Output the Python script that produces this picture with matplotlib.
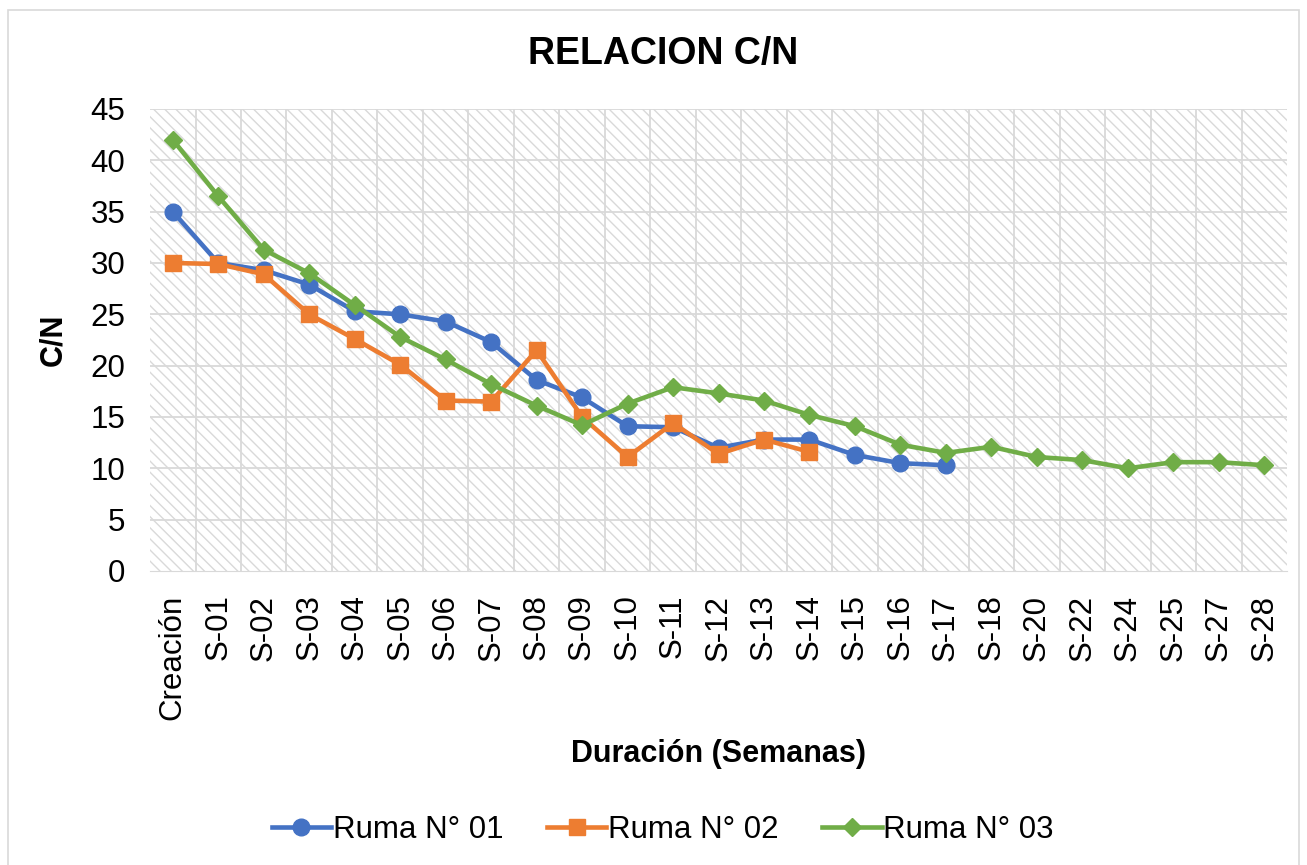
import matplotlib.pyplot as plt
import matplotlib.patches as mpatches
import numpy as np

plt.rcParams["font.family"] = ["Liberation Sans", "DejaVu Sans"]
plt.rcParams["hatch.color"] = "#d9d9d9"
plt.rcParams["hatch.linewidth"] = 1.0

categories = ["Creación", "S-01", "S-02", "S-03", "S-04", "S-05", "S-06", "S-07",
              "S-08", "S-09", "S-10", "S-11", "S-12", "S-13", "S-14", "S-15",
              "S-16", "S-17", "S-18", "S-20", "S-22", "S-24", "S-25", "S-27", "S-28"]

ruma_01 = [35.0, 30.0, 29.3, 27.9, 25.3, 25.0, 24.3, 22.3, 18.6, 16.9, 14.1, 14.0,
           12.0, 12.8, 12.8, 11.3, 10.5, 10.3]
ruma_02 = [30.0, 29.9, 28.9, 25.0, 22.6, 20.1, 16.6, 16.5, 21.5, 15.0, 11.1, 14.4,
           11.4, 12.8, 11.6]
ruma_03 = [42.0, 36.5, 31.3, 29.0, 25.9, 22.8, 20.6, 18.2, 16.1, 14.2, 16.3, 17.9,
           17.3, 16.6, 15.2, 14.1, 12.3, 11.5, 12.1, 11.1, 10.8, 10.0, 10.6, 10.6, 10.3]

series = [
    ("Ruma N° 01", ruma_01, "#4472C4", "o", 12),
    ("Ruma N° 02", ruma_02, "#ED7D31", "s", 11.5),
    ("Ruma N° 03", ruma_03, "#70AD47", "D", 9.5),
]

fig = plt.figure(figsize=(13.07, 8.65), dpi=100)
ax = fig.add_axes([0.1148, 0.3399, 0.8699, 0.5341])

# chart border
fig.patches.append(mpatches.Rectangle((0.006, -0.01), 0.988, 0.999, transform=fig.transFigure,
                                      fill=False, edgecolor="#d9d9d9", linewidth=1.2))

n = len(categories)
x = np.arange(n)
ax.set_xlim(-0.5, n - 0.5)
ax.set_ylim(0, 45)

# hatched plot area
ax.add_patch(mpatches.Rectangle((0, 0), 1, 1, transform=ax.transAxes, facecolor="white",
                                edgecolor="#d9d9d9", hatch="\\\\\\", linewidth=0, zorder=0))

for yv in range(5, 50, 5):
    ax.axhline(yv, color="#d9d9d9", linewidth=1.3, zorder=1)
for xv in np.arange(0.5, n - 0.5, 1):
    ax.axvline(xv, color="#d9d9d9", linewidth=1.3, zorder=1)

for label, vals, color, marker, ms in series:
    ax.plot(x[:len(vals)], vals, color=color, marker=marker, markersize=ms,
            linewidth=3.3, label=label, zorder=3)

ax.set_xticks(x)
ax.set_xticklabels(categories, rotation=90, fontsize=22.5)
ax.set_yticks(range(0, 50, 5))
ax.tick_params(axis="y", labelsize=22.5, length=0, pad=18)
ax.tick_params(axis="x", length=0, pad=17)
for s in ["top", "right", "left"]:
    ax.spines[s].set_visible(False)
ax.spines["bottom"].set_color("#d9d9d9")

fig.text(0.507, 0.937, "RELACION C/N", fontsize=27, fontweight="bold", ha="center", va="center")
ax.set_ylabel("C/N", fontsize=22, fontweight="bold", labelpad=16)
ax.set_xlabel("Duración (Semanas)", fontsize=22, fontweight="bold", labelpad=14)

fig.legend(loc="center", bbox_to_anchor=(0.507, 0.04), ncol=3, frameon=False,
           fontsize=22.5, handlelength=1.9, handletextpad=0.05, columnspacing=1.4)

fig.savefig("out.png", dpi=100)
